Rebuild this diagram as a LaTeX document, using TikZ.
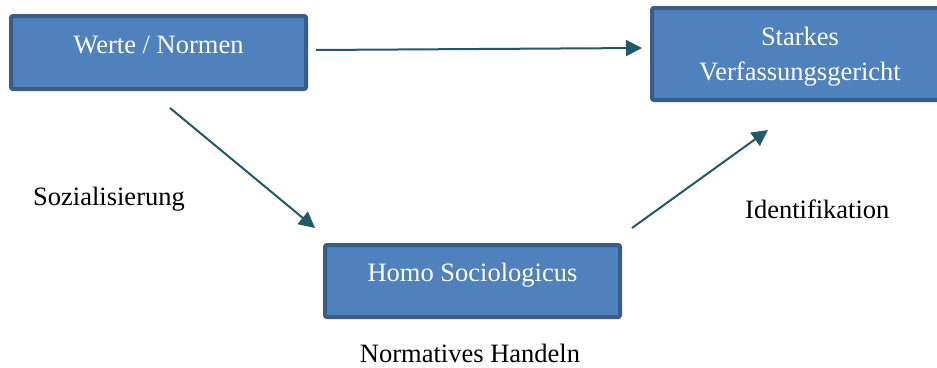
\documentclass[tikz,border=0pt]{standalone}
\usepackage{fontspec}
\setmainfont{Liberation Serif}
\usepackage{xcolor}
\usetikzlibrary{arrows.meta}
\definecolor{boxfill}{HTML}{4F81BD}
\definecolor{boxline}{HTML}{385D8A}
\definecolor{arrowcol}{HTML}{215968}

\begin{document}
\begin{tikzpicture}[
  x=1pt, y=-1pt,
  font=\fontsize{26.5}{35}\selectfont,
  box/.style={draw=boxline, fill=boxfill, line width=4pt, rounded corners=2pt, text=white, align=center},
  onebox/.style={box, text height=18pt, text depth=17pt},
  lbl/.style={text=black, inner sep=0pt},
  arrow/.style={-{Triangle[length=16pt,width=16pt]}, line width=2pt, arrowcol}
]
\clip (0,0) rectangle (937,367);
\fill[white] (0,0) rectangle (937,367);
\node[onebox, minimum width=295pt, minimum height=73pt] (werte) at (158.5,52.5) {Werte / Normen};
\node[box, text depth=0pt, minimum width=296pt, minimum height=92pt] (starkes) at (800,54) {Starkes\\Verfassungsgericht};
\node[onebox, minimum width=295pt, minimum height=72pt] (homo) at (472.5,281) {Homo Sociologicus};
\node[lbl, anchor=base west] (sozial) at (33,205) {Sozialisierung};
\node[lbl, anchor=base west] (ident) at (745,218) {Identifikation};
\node[lbl, anchor=base] (handeln) at (470,362) {Normatives Handeln};
\draw[arrow] ([shift={(8,-2.5)}]werte.east) -- ([shift={(-8,-6)}]starkes.west);
\draw[arrow] ([shift={(11.5,17)}]werte.south) -- ([shift={(-8,-15)}]homo.north west);
\draw[arrow] ([shift={(10,-15)}]homo.north east) -- ([shift={(118,28)}]starkes.south west);
\end{tikzpicture}
\end{document}
